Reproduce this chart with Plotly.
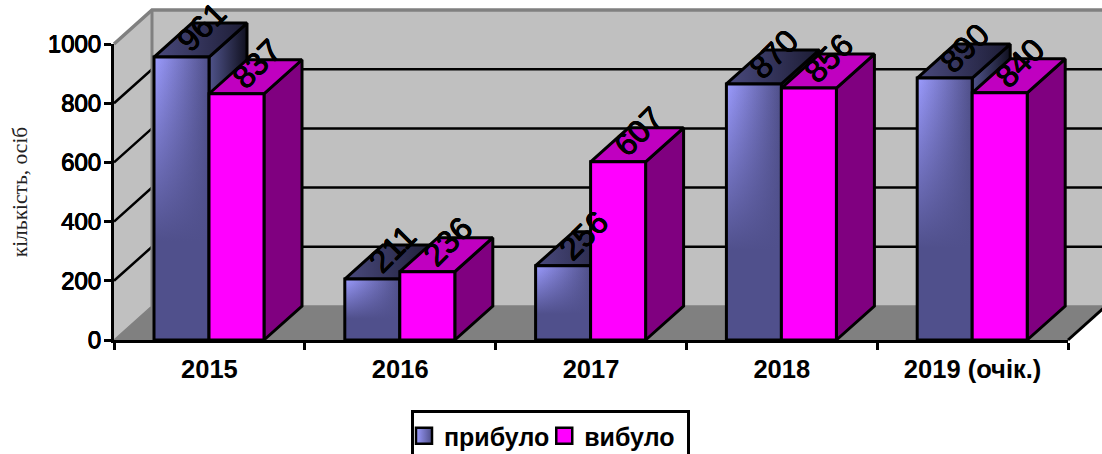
import plotly.graph_objects as go

categories = ["2015", "2016", "2017", "2018", "2019 (очік.)"]
arrived = [961, 211, 256, 870, 890]
departed = [837, 236, 607, 856, 840]
series_names = ["прибуло", "вибуло\u00a0"]
y_ticks = [0, 200, 400, 600, 800, 1000]
y_title = "кількість, осіб"

W, H = 1102, 454
LEFT, RIGHT, BOTTOM, TOP = 114, 1068, 340, 44   # front plane pixels
PXX = (RIGHT - LEFT) / len(categories)
PXY = (BOTTOM - TOP) / 1000
DX = 38 / PXX
DY = 34 / PXY
GAP = 40 / PXX
BW = 55 / PXX
N = len(categories)
DROP = 1.5 / PXY   # the 3D projection seats bar tops slightly below the axis scale
BLACK = "#000000"
EDGE = "#808080"
HALO = "0.4px 0 0 #000, -0.4px 0 0 #000, 0 0.4px 0 #000, 0 -0.4px 0 #000"

fig = go.Figure()


def poly(xs, ys, fill=None, grad=None, line=None, lw=3):
    kw = dict(x=xs + xs[:1], y=ys + ys[:1], mode="lines", fill="toself",
              showlegend=False, hoverinfo="skip",
              line=dict(color=line or "rgba(0,0,0,0)", width=lw if line else 0))
    if grad:
        kw["fillgradient"] = dict(type=grad[0], colorscale=grad[1])
    else:
        kw["fillcolor"] = fill or "rgba(0,0,0,0)"
    fig.add_trace(go.Scatter(**kw))


def seg(xs, ys, color=BLACK, lw=2.5):
    fig.add_trace(go.Scatter(x=xs, y=ys, mode="lines", showlegend=False,
                             hoverinfo="skip", line=dict(color=color, width=lw)))


# back wall, side wall, floor
poly([DX, N + DX, N + DX, DX], [DY, DY, 1000 + DY, 1000 + DY], fill="#C0C0C0")
poly([0, DX, DX, 0], [0, DY, 1000 + DY, 1000], fill="#C0C0C0")
poly([0, N, N + DX, DX], [0, 0, DY, DY], fill="#808080")
for v in y_ticks[1:-1]:
    seg([0, DX, N + DX], [v, v + DY, v + DY])
seg([0, DX, N + DX], [1000, 1000 + DY, 1000 + DY], EDGE, 3.5)
seg([DX, DX], [DY, 1000 + DY], EDGE, 3)
seg([0, DX, N + DX], [0, DY, DY], EDGE, 1.5)
seg([N, N + DX], [0, DY], BLACK, 3)

BLUE_FRONT = [[0, "#9C9CFF"], [1, "#4F4F88"]]
BLUE_SHADE = [[0, "rgba(80,80,140,1)"], [0.35, "rgba(80,80,140,1)"], [1, "rgba(80,80,140,0)"]]
BLUE_TOP = [[0, "#4A4A7E"], [1, "#1C1C34"]]
BLUE_SIDE = [[0, "#50548C"], [1, "#10101E"]]

for i in range(N):
    for s, vals in enumerate([arrived, departed]):
        x0 = i + GAP + s * BW
        x1 = x0 + BW
        v = vals[i] - DROP
        side = ([x1, x1 + DX, x1 + DX, x1], [0, DY, v + DY, v])
        top = ([x0, x1, x1 + DX, x0 + DX], [v, v, v + DY, v + DY])
        front = ([x0, x1, x1, x0], [0, 0, v, v])
        if s == 0:
            poly(*side, grad=("horizontal", BLUE_SIDE))
            poly(*side, line=BLACK)
            poly(*top, grad=("horizontal", BLUE_TOP))
            poly(*top, line=BLACK)
            poly(*front, grad=("horizontal", BLUE_FRONT))
            poly(*front, grad=("vertical", BLUE_SHADE))
            poly(*front, line=BLACK)
        else:
            poly(*side, fill="#800080", line=BLACK)
            poly(*top, fill="#C000C0", line=BLACK)
            poly(*front, fill="#FF00FF", line=BLACK)
        fig.add_annotation(x=x0 + BW / 2 + DX / 2, y=v + DY / 2, xref="x", yref="y",
                           text=str(vals[i]), showarrow=False, textangle=-45, xshift=1, yshift=13,
                           font=dict(family="Liberation Sans", size=32, color=BLACK, shadow=HALO))

# legend entries
fig.add_trace(go.Scatter(x=[None], y=[None], xaxis="x2", yaxis="y2", mode="markers", name=series_names[0],
                         marker=dict(symbol="square", size=16, color="#9C9CFF",
                                     gradient=dict(type="horizontal", color="#4F4F88"),
                                     line=dict(color=BLACK, width=2.5))))
fig.add_trace(go.Scatter(x=[None], y=[None], xaxis="x2", yaxis="y2", mode="markers", name=series_names[1],
                         marker=dict(symbol="square", size=16, color="#FF00FF",
                                     line=dict(color=BLACK, width=2.5))))

fig.update_layout(
    width=W, height=H, margin=dict(l=0, r=0, t=0, b=0, autoexpand=False),
    paper_bgcolor="white", plot_bgcolor="rgba(0,0,0,0)", autosize=False,
    font=dict(family="Liberation Sans", color=BLACK),
    xaxis=dict(domain=[0, 1], range=[(0 - LEFT) / PXX, (W - LEFT) / PXX], visible=False, fixedrange=True),
    yaxis=dict(domain=[0, 1], range=[(BOTTOM - H) / PXY, BOTTOM / PXY], visible=False, fixedrange=True),
    xaxis2=dict(domain=[LEFT / W, RIGHT / W], range=[0, N], anchor="y2",
                tickvals=[i + 0.5 for i in range(N)], ticktext=categories, ticks="",
                showgrid=False, zeroline=False, showline=True, linecolor=BLACK, linewidth=3,
                ticklabelstandoff=4, tickfont=dict(size=25.5, family="Liberation Sans", weight="bold"),
                minor=dict(tickvals=list(range(N + 1)), ticks="outside", ticklen=7, tickwidth=2.5,
                           tickcolor=BLACK, showgrid=False)),
    yaxis2=dict(domain=[(H - BOTTOM) / H, (H - TOP) / H], range=[0, 1000], anchor="x2",
                tickvals=y_ticks, ticks="outside", ticklen=7, tickwidth=2.5, tickcolor=BLACK,
                showgrid=False, zeroline=False, showline=True, linecolor=BLACK, linewidth=3,
                ticklabelstandoff=-2,
                tickfont=dict(size=24, family="Liberation Sans", shadow=HALO),
                title=dict(text=y_title, standoff=15, font=dict(size=21.5, family="Liberation Serif", color="#222222"))),
    legend=dict(orientation="h", x=411 / W, y=1 - 410 / H, xanchor="left", yanchor="top",
                bordercolor=BLACK, borderwidth=3, bgcolor="white", itemsizing="trace",
                font=dict(size=25, family="Liberation Sans", weight="bold"),
                itemwidth=30, tracegroupgap=0, indentation=-10),
)

fig.write_html("out.html", config={"displayModeBar": False},
               post_script="document.body.style.margin='0';")
